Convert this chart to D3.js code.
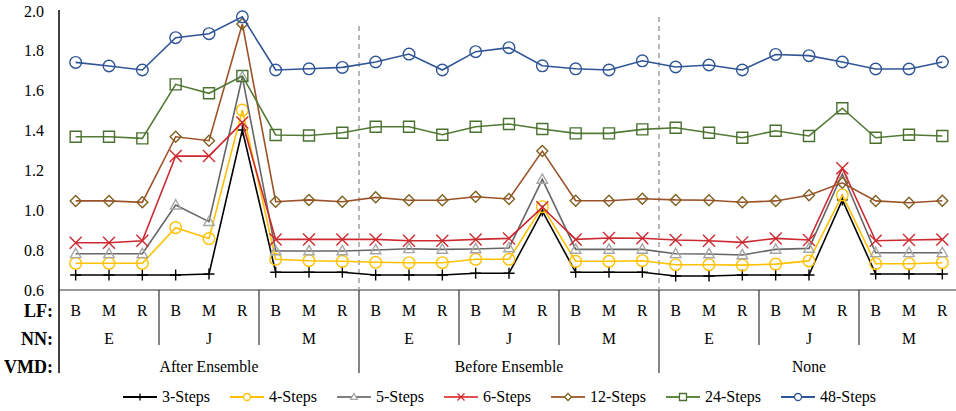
<!DOCTYPE html>
<html>
<head>
<meta charset="utf-8">
<script src="https://cdn.jsdelivr.net/npm/d3@7"></script>
<style>
  body { margin: 0; background: #fff; }
  svg text { font-family: "Liberation Serif", "DejaVu Serif", "Times New Roman", serif; }
</style>
</head>
<body>
<svg id="chart" width="956" height="411"></svg>
<script>
// Category levels
const vmd_labels = ["After Ensemble", "Before Ensemble", "None"];
const nn_labels = ["E", "J", "M"];
const lf_labels = ["B", "M", "R"];
const y_ticks = [0.6, 0.8, 1.0, 1.2, 1.4, 1.6, 1.8, 2.0];

// Series values (27 points each)
const steps3 = [0.675, 0.675, 0.675, 0.675, 0.680, 1.403, 0.689, 0.689, 0.689,
  0.675, 0.675, 0.675, 0.684, 0.684, 0.996, 0.689, 0.689, 0.689,
  0.670, 0.670, 0.675, 0.675, 0.675, 1.052, 0.680, 0.680, 0.680];
const steps4 = [0.734, 0.734, 0.734, 0.913, 0.858, 1.503, 0.754, 0.747, 0.744,
  0.739, 0.737, 0.737, 0.754, 0.754, 1.018, 0.744, 0.744, 0.747,
  0.727, 0.727, 0.725, 0.730, 0.746, 1.077, 0.732, 0.732, 0.737];
const steps5 = [0.782, 0.782, 0.782, 1.026, 0.943, 1.669, 0.796, 0.796, 0.796,
  0.801, 0.807, 0.804, 0.806, 0.811, 1.155, 0.804, 0.804, 0.804,
  0.782, 0.781, 0.776, 0.804, 0.809, 1.182, 0.787, 0.787, 0.787];
const steps6 = [0.837, 0.837, 0.847, 1.272, 1.272, 1.441, 0.854, 0.854, 0.854,
  0.854, 0.847, 0.847, 0.854, 0.859, 1.015, 0.854, 0.861, 0.860,
  0.851, 0.847, 0.839, 0.859, 0.851, 1.211, 0.847, 0.851, 0.854];
const steps12 = [1.047, 1.047, 1.040, 1.369, 1.349, 1.935, 1.043, 1.052, 1.043,
  1.065, 1.050, 1.050, 1.068, 1.057, 1.297, 1.048, 1.048, 1.058,
  1.052, 1.050, 1.040, 1.047, 1.075, 1.138, 1.047, 1.038, 1.048];
const steps24 = [1.369, 1.369, 1.361, 1.632, 1.587, 1.674, 1.378, 1.375, 1.389,
  1.419, 1.419, 1.379, 1.419, 1.433, 1.408, 1.386, 1.386, 1.406,
  1.414, 1.389, 1.364, 1.399, 1.373, 1.512, 1.364, 1.379, 1.373];
const steps48 = [1.742, 1.724, 1.704, 1.866, 1.886, 1.971, 1.704, 1.710, 1.717,
  1.744, 1.784, 1.704, 1.796, 1.816, 1.725, 1.710, 1.704, 1.750,
  1.719, 1.729, 1.704, 1.782, 1.776, 1.744, 1.709, 1.709, 1.744];

const series_names = ["3-Steps", "4-Steps", "5-Steps", "6-Steps", "12-Steps", "24-Steps", "48-Steps"];
const series_values = [steps3, steps4, steps5, steps6, steps12, steps24, steps48];

// Styles per series
const styles = [
  { line: "#000000", marker: "#000000", shape: "plus", legend_line: "#000000" },
  { line: "#ffc000", marker: "#ffc000", shape: "circle", legend_line: "#ffc000" },
  { line: "#666666", marker: "#a6a6a6", shape: "triangle", legend_line: "#7f7f7f" },
  { line: "#cc2a30", marker: "#cc2a30", shape: "cross", legend_line: "#e05050" },
  { line: "#9c5228", marker: "#806020", shape: "diamond", legend_line: "#a8673c" },
  { line: "#527a35", marker: "#4a7030", shape: "square", legend_line: "#5f8a40" },
  { line: "#2f5597", marker: "#2f5597", shape: "circle", legend_line: "#2f5597" }
];

const svg = d3.select("#chart");

// Build category list
const categories = [];
vmd_labels.forEach((v) => nn_labels.forEach((n) => lf_labels.forEach((l) => {
  categories.push({ vmd: v, nn: n, lf: l });
})));

const x = d3.scaleBand().domain(d3.range(categories.length)).range([59, 959]);
const y = d3.scaleLinear().domain([0.6, 2.0]).range([290, 11]);
const cx = (i) => x(i) + x.bandwidth() / 2;

// Marker paths
function marker_path(shape, s) {
  switch (shape) {
    case "plus":
      return `M${-s},0H${s}M0,${-s}V${s}`;
    case "cross":
      return `M${-s},${-s}L${s},${s}M${-s},${s}L${s},${-s}`;
    case "circle":
      return d3.symbol(d3.symbolCircle, Math.PI * s * s)();
    case "triangle":
      return `M0,${-s}L${s * 0.95},${s * 0.7}H${-s * 0.95}Z`;
    case "diamond":
      return `M0,${-s}L${s},0L0,${s}L${-s},0Z`;
    case "square":
      return `M${-s},${-s}H${s}V${s}H${-s}Z`;
  }
}
const marker_size = { plus: 5.5, cross: 6, circle: 5.8, triangle: 5.5, diamond: 5.5, square: 5.5 };

// Y axis
const y_axis = svg.append("g")
  .attr("transform", "translate(59,0)")
  .call(d3.axisLeft(y).tickValues(y_ticks).tickSize(0).tickPadding(15)
    .tickFormat(d3.format(".1f")));
y_axis.attr("font-family", null).attr("font-size", null);
y_axis.select(".domain").remove();
y_axis.selectAll("text")
  .style("font-size", "16px")
  .attr("fill", "#000");

svg.append("line")
  .attr("x1", 59).attr("x2", 59).attr("y1", 10).attr("y2", 373)
  .attr("stroke", "#000").attr("stroke-width", 1.5);

// X axis line
svg.append("line")
  .attr("x1", 59).attr("x2", 959).attr("y1", 290).attr("y2", 290)
  .attr("stroke", "#333").attr("stroke-width", 1.2);

// Dashed separators between VMD groups
[9, 18].forEach((i, k) => {
  svg.append("line")
    .attr("x1", x(i)).attr("x2", x(i))
    .attr("y1", k === 0 ? 26 : 17).attr("y2", 290)
    .attr("stroke", "#a0a0a0").attr("stroke-width", 1.5)
    .attr("stroke-dasharray", "5,4");
});

// Group separator ticks below axis
d3.range(3, 27, 3).forEach((i) => {
  svg.append("line")
    .attr("x1", x(i)).attr("x2", x(i))
    .attr("y1", 290).attr("y2", i % 9 === 0 ? 373 : 345)
    .attr("stroke", "#333").attr("stroke-width", 1.2);
});

// Category labels
const label_g = svg.append("g").attr("fill", "#000").style("font-size", "15.7px");
label_g.selectAll("text.lf")
  .data(categories)
  .join("text")
  .attr("class", "lf")
  .attr("x", (d, i) => cx(i))
  .attr("y", 316)
  .attr("text-anchor", "middle")
  .text((d) => d.lf);

label_g.selectAll("text.nn")
  .data(d3.range(0, 27, 3))
  .join("text")
  .attr("class", "nn")
  .attr("x", (i) => cx(i + 1))
  .attr("y", 344)
  .attr("text-anchor", "middle")
  .text((i) => categories[i].nn);

label_g.selectAll("text.vmd")
  .data(d3.range(0, 27, 9))
  .join("text")
  .attr("class", "vmd")
  .attr("x", (i) => cx(i + 4))
  .attr("y", 372)
  .attr("text-anchor", "middle")
  .text((i) => categories[i].vmd);

// Row titles
[["LF:", 317], ["NN:", 345], ["VMD:", 373]].forEach(([t, yy]) => {
  svg.append("text")
    .attr("x", 53).attr("y", yy)
    .attr("text-anchor", "end")
    .style("font-size", "18px").style("font-weight", "bold")
    .text(t);
});

// Series lines and markers
const line = d3.line().x((d, i) => cx(i)).y((d) => y(d));

series_values.forEach((vals, k) => {
  const st = styles[k];
  const g = svg.append("g").attr("class", "series");
  g.append("path")
    .datum(vals)
    .attr("d", line)
    .attr("fill", "none")
    .attr("stroke", st.line)
    .attr("stroke-width", 1.6);
  g.selectAll("path.mk")
    .data(vals)
    .join("path")
    .attr("class", "mk")
    .attr("transform", (d, i) => `translate(${cx(i)},${y(d)})`)
    .attr("d", marker_path(st.shape, marker_size[st.shape]))
    .attr("fill", "none")
    .attr("stroke", st.marker)
    .attr("stroke-width", 1.4);
});

// Legend
const legend = svg.append("g").attr("id", "legend");
let lx = 123;
const ly = 397;
series_names.forEach((name, k) => {
  const st = styles[k];
  legend.append("line")
    .attr("x1", lx).attr("x2", lx + 34).attr("y1", ly).attr("y2", ly)
    .attr("stroke", st.legend_line).attr("stroke-width", 2);
  legend.append("path")
    .attr("transform", `translate(${lx + 17},${ly})`)
    .attr("d", marker_path(st.shape, 3.5))
    .attr("fill", "#fff")
    .attr("stroke", st.marker)
    .attr("stroke-width", 1.3);
  const t = legend.append("text")
    .attr("x", lx + 39).attr("y", ly + 5)
    .style("font-size", "16px")
    .text(name);
  lx += 39 + t.node().getComputedTextLength() + 20;
});
</script>
</body>
</html>
